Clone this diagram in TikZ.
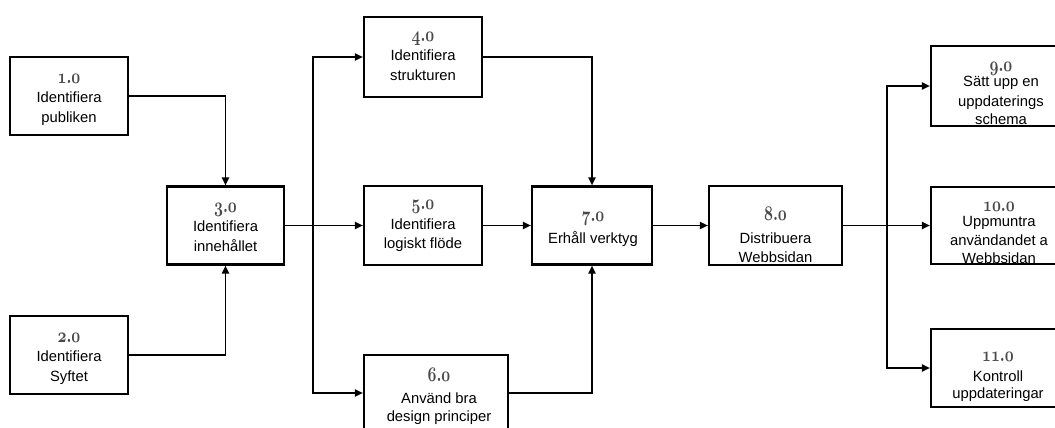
\documentclass[tikz,border=0pt]{standalone}
\usepackage{fontspec}
\usepackage{graphicx}
\setmainfont{Liberation Sans}
\usetikzlibrary{arrows.meta}
\definecolor{numgray}{HTML}{4A4A4A}
% OML/cmm gives old-style digits; in OML the period sits in the slot of ':'
\newcommand{\nr}[2]{{\color{numgray}\scalebox{0.9}[1.2]{\fontencoding{OML}\fontfamily{cmm}\fontseries{b}\fontshape{it}\fontsize{17.28}{19.5}\selectfont #1:#2}}}
\begin{document}
\begin{tikzpicture}[x=1pt,y=-1pt,
  font=\fontsize{14.8}{19.5}\selectfont,
  box/.style={draw=black, line width=2.1pt, rectangle, inner sep=0pt},
  lbl/.style={align=center, inner sep=0pt, text=black},
  conn/.style={draw=black, line width=1.8pt},
  arr/.style={conn, -{Triangle[length=8pt,width=7pt]}}]
\useasboundingbox (0,0) rectangle (1055,428);
\clip (0,0) rectangle (1055,428);
\fill[white] (0,0) rectangle (1055,428);
% boxes
\node[box, minimum width=118pt, minimum height=78pt] (b1) at (69,96) {};
\node[box, minimum width=118pt, minimum height=78pt] (b2) at (69,355) {};
\node[box, minimum width=117pt, minimum height=78pt] (b3) at (225.5,225.5) {};
\node[box, minimum width=118pt, minimum height=80pt] (b4) at (423,57) {};
\node[box, minimum width=118pt, minimum height=79pt] (b5) at (423,225.5) {};
\node[box, minimum width=144pt, minimum height=76pt] (b6) at (436,393) {};
\node[box, minimum width=120pt, minimum height=78pt] (b7) at (592,225.5) {};
\node[box, minimum width=133pt, minimum height=79pt] (b8) at (775.5,225.5) {};
\node[box, minimum width=169pt, minimum height=80pt] (b9) at (1015.5,86) {};
\node[box, minimum width=169pt, minimum height=77pt] (b10) at (1015.5,225.5) {};
\node[box, minimum width=169pt, minimum height=78pt] (b11) at (1015.5,368) {};
% labels
\node[lbl] (t1) at (69,99.5) {\nr{1}{0}\\Identifiera\\publiken};
\node[lbl] (t2) at (69,358.5) {\nr{2}{0}\\Identifiera\\Syftet};
\node[lbl] (t3) at (225.5,227) {\nr{3}{0}\\Identifiera\\innehållet};
\node[lbl] (t4) at (423,56) {\nr{4}{0}\\Identifiera\\strukturen};
\node[lbl] (t5) at (423,226) {\nr{5}{0}\\Identifiera\\logiskt flöde};
\node[lbl] (t6) at (439,396) {\nr{6}{0}\\[3pt]Använd bra\\[-2pt]design principer};
\node[lbl] (t7) at (593,229.5) {\nr{7}{0}\\[3pt]Erhåll verktyg};
\node[lbl] (t8) at (775.5,235) {\nr{8}{0}\\[3pt]Distribuera\\Webbsidan};
\node[lbl] (t9) at (1001,93) {\nr{9}{0}\\[-4pt]Sätt upp en\\uppdaterings\\[-1.5pt]schema};
\node[lbl] (t10) at (999,233) {\nr{10}{0}\\[-4.5pt]Uppmuntra\\användandet a\\[-1.5pt]Webbsidan};
\node[lbl] (t11) at (998,377) {\nr{11}{0}\\Kontroll\\[-2.5pt]uppdateringar};
% junctions
\coordinate (j1) at (313,225.5);
\coordinate (j2) at (887,225.5);
% connectors
\draw[arr] (b1.east) -| (b3.north);
\draw[arr] (b2.east) -| (b3.south);
\draw[conn] (b3.east) -- (j1);
\draw[arr] (j1) -- (b5.west);
\draw[arr] (j1) |- (b4.west);
\draw[arr] (j1) |- (b6.west);
\draw[arr] (b4.east) -| (b7.north);
\draw[arr] (b5.east) -- (b7.west);
\draw[arr] (b6.east) -| (b7.south);
\draw[arr] (b7.east) -- (b8.west);
\draw[arr] (b8.east) -- (b10.west);
\draw[arr] (j2) |- (b9.west);
\draw[arr] (j2) |- (b11.west);
\end{tikzpicture}
\end{document}
